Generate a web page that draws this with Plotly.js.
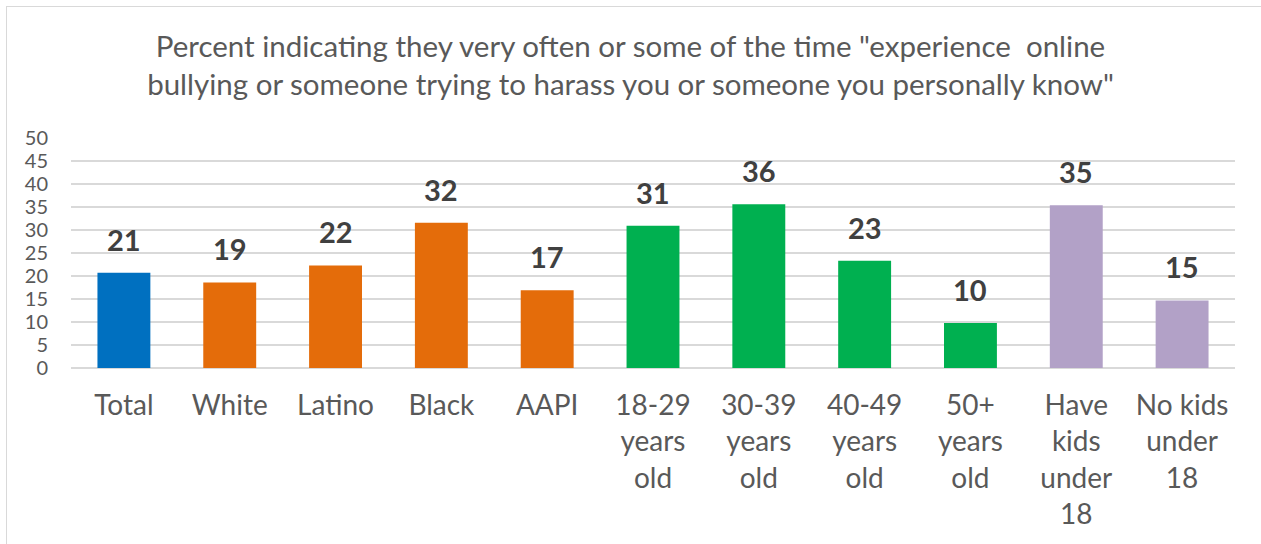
<!DOCTYPE html>
<html>
<head>
<meta charset="utf-8">
<script src="https://cdn.plot.ly/plotly-3.0.1.min.js"></script>
<style>
html,body{margin:0;padding:0;background:#fff;}
#wrap{position:relative;width:1261px;height:544px;overflow:hidden;}
#frame{position:absolute;left:6px;top:6px;width:1300px;height:600px;border:1px solid #d9d9d9;box-sizing:border-box;pointer-events:none;}
#chart{position:absolute;left:0;top:0;width:1261px;height:544px;}
</style>
</head>
<body>
<div id="wrap"><div id="chart"></div><div id="frame"></div></div>
<script>
const categories = ["Total","White","Latino","Black","AAPI","18-29<br>years<br>old","30-39<br>years<br>old","40-49<br>years<br>old","50+<br>years<br>old","Have<br>kids<br>under<br>18","No kids<br>under<br>18"];
const values = [20.7, 18.6, 22.3, 31.6, 16.9, 30.9, 35.6, 23.3, 9.8, 35.4, 14.7];
const barColors = ["#0070C0","#E46C0A","#E46C0A","#E46C0A","#E46C0A","#00B050","#00B050","#00B050","#00B050","#B2A1C7","#B2A1C7"];
const yTicks = [0,5,10,15,20,25,30,35,40,45,50];
const titleText = 'Percent indicating they very often or some of the time "experience  online<br>bullying or someone trying to harass you or someone you personally know"';

const FONT = 'Lato, "Open Sans", sans-serif';

const trace = {
  type: 'bar',
  x: categories,
  y: values,
  marker: {color: barColors},
  width: 0.5,
  hoverinfo: 'skip'
};

const annotations = categories.map((c, i) => ({
  x: c, y: values[i], xref: 'x', yref: 'y',
  text: '<b>' + Math.round(values[i]) + '</b>',
  showarrow: false, yanchor: 'bottom', yshift: 14,
  font: {family: FONT, size: 29, color: '#404040'}
}));

const layout = {
  width: 1261, height: 544,
  margin: {l: 71, r: 26, t: 138, b: 176},
  paper_bgcolor: '#fff', plot_bgcolor: '#fff',
  showlegend: false,
  title: {
    text: titleText,
    font: {family: FONT, size: 29.5, color: '#595959'},
    x: 0.5, xanchor: 'center',
    yref: 'container', y: 0.895, yanchor: 'top'
  },
  xaxis: {
    type: 'category',
    tickfont: {family: FONT, size: 28, color: '#595959'},
    showgrid: false, showline: false, ticks: '',
    ticklabelstandoff: 18,
    fixedrange: true
  },
  yaxis: {
    range: [0, 50],
    tickvals: yTicks,
    ticktext: yTicks.map(String),
    tickfont: {family: FONT, size: 20, color: '#595959'},
    showgrid: true, gridcolor: '#d9d9d9', gridwidth: 1.5,
    zeroline: true, zerolinecolor: '#d9d9d9', zerolinewidth: 1.5,
    showline: false, ticks: '',
    ticklabelstandoff: 22,
    fixedrange: true
  },
  annotations: annotations,
  font: {family: FONT}
};

Plotly.newPlot('chart', [trace], layout, {displayModeBar: false, staticPlot: true});
</script>
</body>
</html>
